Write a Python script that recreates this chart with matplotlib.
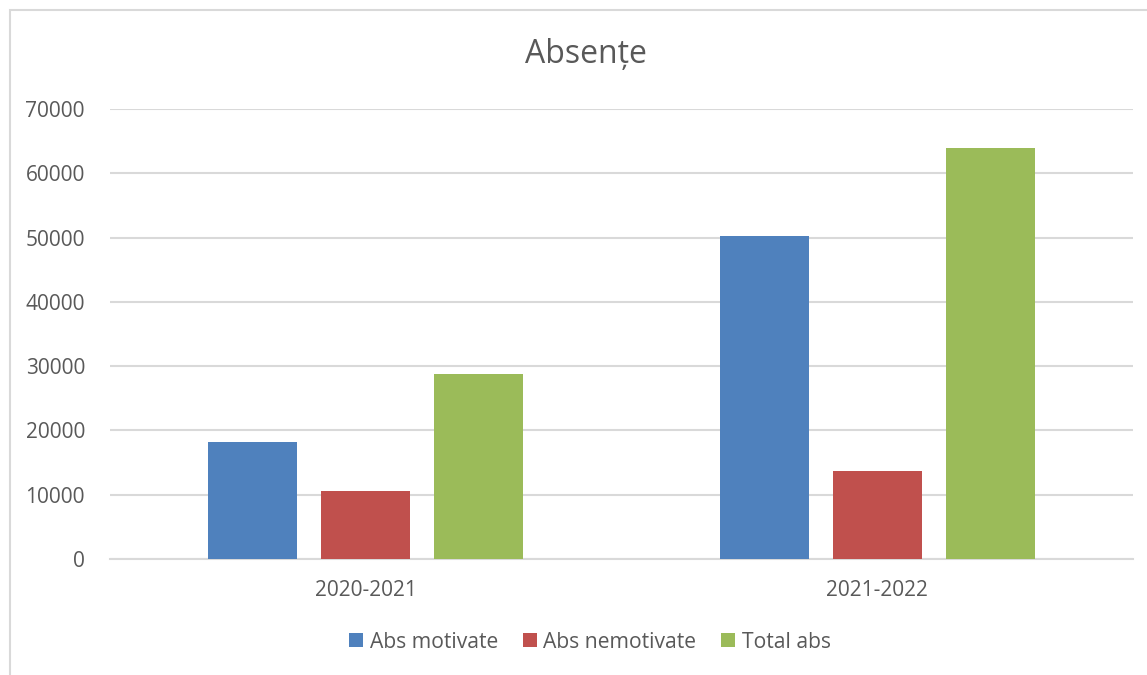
import matplotlib
matplotlib.use('Agg')
import matplotlib.pyplot as plt
import matplotlib.patches as mpatches
import numpy as np

plt.rcParams['font.family'] = ['Open Sans', 'DejaVu Sans']

# Data
categories = ['2020-2021', '2021-2022']
series_names = ['Abs motivate', 'Abs nemotivate', 'Total abs']
abs_motivate = [18200, 50250]
abs_nemotivate = [10580, 13690]
total_abs = [28780, 63940]
yticks = [0, 10000, 20000, 30000, 40000, 50000, 60000, 70000]

colors = ['#4f81bd', '#c0504d', '#9bbb59']
text_color = '#595959'
grid_color = '#d9d9d9'

fig = plt.figure(figsize=(11.47, 6.75), dpi=100)
ax = fig.add_axes([110 / 1147, 1 - 559 / 675, (1133 - 110) / 1147, (559 - 109) / 675])

# light frame around the chart area
fig.patches.append(mpatches.Rectangle((9.5 / 1147, -0.1), 1.2, 1 - 9.5 / 675 + 0.1,
                                      transform=fig.transFigure, fill=False,
                                      edgecolor='#d9d9d9', linewidth=1.5))

x = np.arange(len(categories))
width = 0.174
offset = 0.221
for i, vals in enumerate([abs_motivate, abs_nemotivate, total_abs]):
    ax.bar(x + (i - 1) * offset, vals, width, color=colors[i], label=series_names[i], zorder=3)

ax.set_xlim(-0.5, 1.5)
ax.set_ylim(0, 70000)
ax.set_yticks(yticks)
ax.set_yticklabels([str(v) for v in yticks])
ax.set_xticks(x)
ax.set_xticklabels(categories)
ax.yaxis.grid(True, color=grid_color, linewidth=1.5, zorder=0)
ax.set_axisbelow(True)
for s in ['top', 'right', 'left']:
    ax.spines[s].set_visible(False)
ax.spines['bottom'].set_color(grid_color)
ax.spines['bottom'].set_linewidth(1.5)
ax.tick_params(axis='both', length=0, labelsize=15, labelcolor=text_color)
ax.tick_params(axis='y', pad=18)
ax.tick_params(axis='x', pad=15)

fig.text(586 / 1147, 1 - 55 / 675, 'Absențe', ha='center', va='center',
         fontsize=23, color=text_color)

leg = fig.legend(loc='center', bbox_to_anchor=(590 / 1147, 1 - 642 / 675), ncol=3,
                 frameon=False, fontsize=15.2, handlelength=0.65, handleheight=0.65,
                 handletextpad=0.3, columnspacing=1.2)
for t in leg.get_texts():
    t.set_color(text_color)

plt.savefig('out.png', dpi=100)
plt.close()
